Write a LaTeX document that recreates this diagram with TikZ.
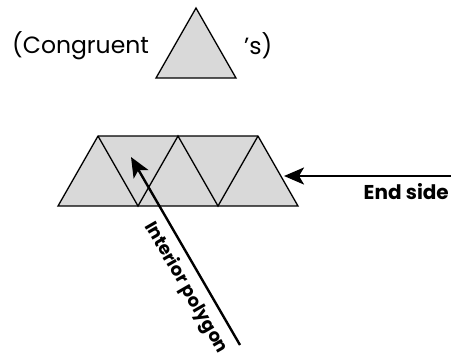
\documentclass[tikz,border=0pt]{standalone}
\usepackage{fontspec}
\setmainfont{Poppins}
\usetikzlibrary{arrows.meta}
\definecolor{tri}{HTML}{D9D9D9}
\tikzset{
  tribox/.style={fill=tri, draw=black, line width=1.3pt, line join=miter},
  pointer/.style={line width=2.4pt, -{Stealth[length=20pt,width=17pt,inset=5pt]}},
  lbl/.style={font=\fontsize{23.5}{26}\selectfont, inner sep=0pt},
  blbl/.style={font=\bfseries\fontsize{20}{22}\selectfont, inner sep=0pt},
  rlbl/.style={font=\bfseries\fontsize{18}{20}\selectfont, inner sep=0pt}
}
\begin{document}
\begin{tikzpicture}[x=1pt,y=-1pt]
\useasboundingbox (0,0) rectangle (451,360);
% top triangle
\draw[tribox] (156,78) -- (196,8) -- (236,78) -- cycle;
\node[lbl, anchor=west] (cong) at (12,46) {(Congruent};
\node[lbl, anchor=west] (s) at (244,46) {’s)};
% strip
\draw[tribox] (58,206) -- (98,136) -- (258,136) -- (298,206) -- cycle;
\draw[line width=1.3pt, line join=miter] (98,136) -- (138,206) -- (178,136) -- (218,206) -- (258,136);
% arrows
\coordinate (it) at (131,157);
\coordinate (is) at (240,345);
\draw[pointer] (is) -- (it);
\coordinate (et) at (284,176);
\coordinate (es) at (451,176);
\draw[pointer] (es) -- (et);
\node[blbl, anchor=east] (end) at (449,192) {End side};
\node[rlbl, rotate=-60] (int) at (186,288) {Interior polygon};
\end{tikzpicture}
\end{document}
